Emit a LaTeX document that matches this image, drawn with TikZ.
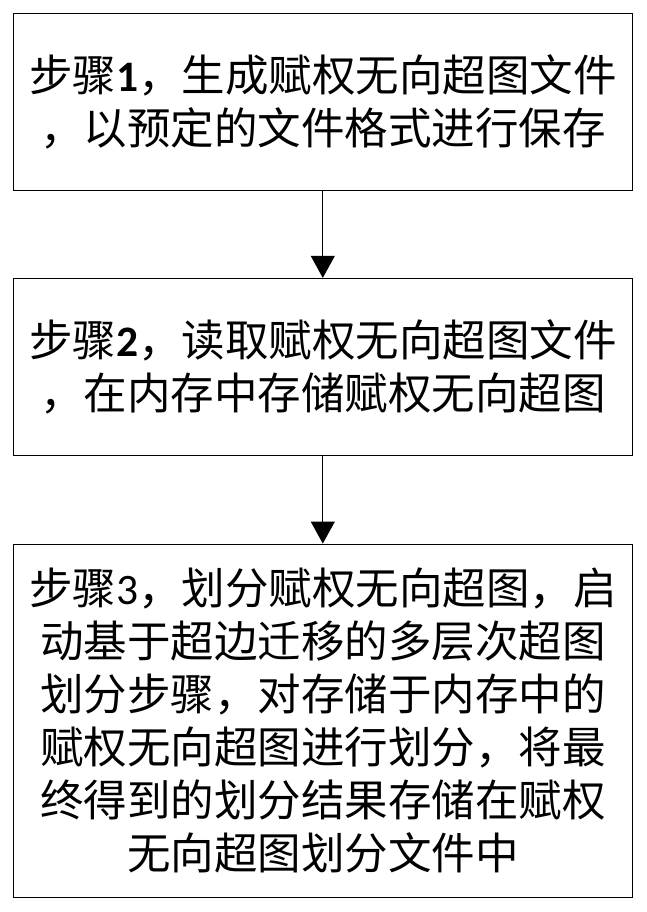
\documentclass[tikz,border=0pt]{standalone}
\usepackage{fontspec}
\setmainfont{Noto Sans CJK SC}
\newfontfamily\digitfont{Carlito}
\usetikzlibrary{arrows.meta}
\tikzset{
  stepbox/.style={draw=black, line width=1pt, minimum width=619pt, inner sep=0pt,
    align=center, font=\fontsize{43.5}{53}\selectfont},
  flowarrow/.style={line width=1pt, -{Triangle[width=24pt,length=22pt]}}
}
\begin{document}
\begin{tikzpicture}[x=1pt,y=-1pt]
\useasboundingbox (0,0) rectangle (647,912);
\fill[white] (0,0) rectangle (647,912);
\node[stepbox, minimum height=176.7pt] (b1) at (322.8,101.7)
  {步骤{\digitfont\bfseries 1}，生成赋权无向超图文件\\，以预定的文件格式进行保存};
\node[stepbox, minimum height=176.7pt] (b2) at (322.8,366.7)
  {步骤{\digitfont\bfseries 2}，读取赋权无向超图文件\\，在内存中存储赋权无向超图};
\node[stepbox, minimum height=353.7pt] (b3) at (322.8,720.9)
  {步骤{\digitfont 3}，划分赋权无向超图，启\\动基于超边迁移的多层次超图\\划分步骤，对存储于内存中的\\赋权无向超图进行划分，将最\\终得到的划分结果存储在赋权\\无向超图划分文件中};
\draw[flowarrow] (b1.south) -- (b2.north);
\draw[flowarrow] (b2.south) -- (b3.north);
\end{tikzpicture}
\end{document}
